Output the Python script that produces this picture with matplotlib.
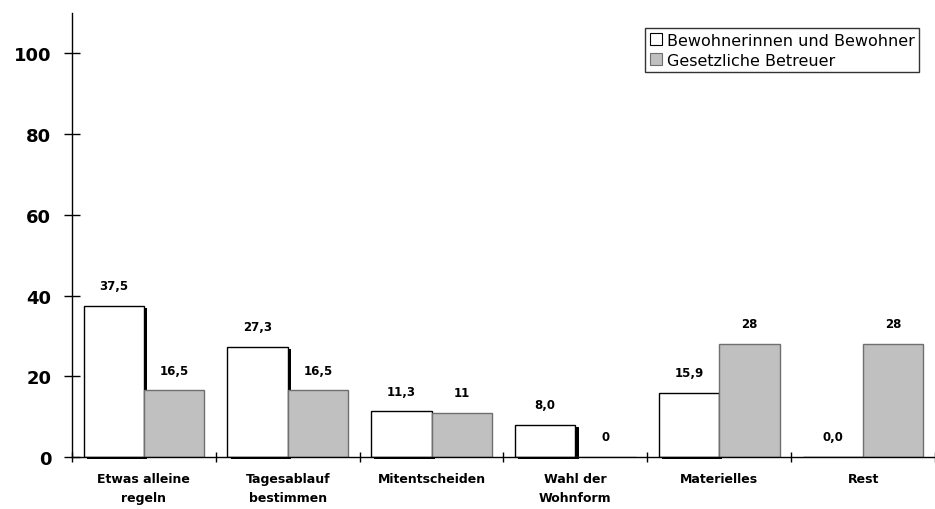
import matplotlib
matplotlib.use('Agg')
import matplotlib.pyplot as plt
import numpy as np
from matplotlib.patches import Patch

categories = ['Etwas alleine\nregeln', 'Tagesablauf\nbestimmen', 'Mitentscheiden',
              'Wahl der\nWohnform', 'Materielles', 'Rest']
bewohner = [37.5, 27.3, 11.3, 8.0, 15.9, 0.0]
betreuer = [16.5, 16.5, 11, 0, 28, 28]
series_names = ['Bewohnerinnen und Bewohner', 'Gesetzliche Betreuer']
yticks = [0, 20, 40, 60, 80, 100]

plt.rcParams['font.family'] = ['DejaVu Sans']

fig = plt.figure(figsize=(9.35, 5.10), dpi=100)
ax = fig.add_axes([72 / 935, 52 / 510, 1 - 72 / 935, 444 / 510])

x = np.arange(len(categories))
w = 0.42
gray = '#c0c0c0'

# drop shadow behind the white bars
ax.bar(x - w / 2 + 0.022, bewohner, width=w, bottom=-0.55, color='black',
       linewidth=0, zorder=1, clip_on=False)
ax.bar(x - w / 2, bewohner, width=w, color='white', edgecolor='black',
       linewidth=1, zorder=2)
ax.bar(x + w / 2, betreuer, width=w, color=gray, edgecolor='#6f6f6f',
       linewidth=1, zorder=2)

for xi, v in zip(x, bewohner):
    ax.annotate(f'{v:.1f}'.replace('.', ','), (xi - w / 2, v), xytext=(0, 10),
                textcoords='offset points', ha='center', va='bottom',
                fontsize=8.5, fontweight='bold')
for xi, v in zip(x, betreuer):
    ax.annotate(f'{v:g}'.replace('.', ','), (xi + w / 2, v), xytext=(0, 10),
                textcoords='offset points', ha='center', va='bottom',
                fontsize=8.5, fontweight='bold')

ax.set_xlim(-0.5, -0.5 + 863 / 145.5)
ax.set_ylim(0, 110)
ax.set_yticks(yticks)
ax.set_yticklabels([str(t) for t in yticks], fontsize=13, fontweight='bold')
ax.tick_params(axis='y', direction='inout', length=12, width=1, pad=9)

ax.set_xticks(np.arange(len(categories) + 1) - 0.5)
ax.set_xticklabels([])
ax.tick_params(axis='x', which='major', direction='inout', length=7, width=1)
ax.set_xticks(x, minor=True)
ax.set_xticklabels(categories, minor=True, fontsize=9, fontweight='bold',
                   linespacing=1.55)
ax.tick_params(axis='x', which='minor', length=0, pad=11)

for side in ['top', 'right']:
    ax.spines[side].set_visible(False)
ax.spines['left'].set_linewidth(1)
ax.spines['bottom'].set_linewidth(1)

handles = [Patch(facecolor='white', edgecolor='black', linewidth=0.8),
           Patch(facecolor=gray, edgecolor='#6f6f6f', linewidth=0.8)]
leg = fig.legend(handles, series_names, loc='upper left',
                 bbox_to_anchor=(645 / 935, 1 - 29 / 510), fontsize=11.5,
                 frameon=True, fancybox=False, edgecolor='black',
                 handlelength=0.75, handleheight=0.75, handletextpad=0.3,
                 borderpad=0.3, labelspacing=0.3, borderaxespad=0)
leg.get_frame().set_linewidth(1)

fig.savefig('out.png', dpi=100)
